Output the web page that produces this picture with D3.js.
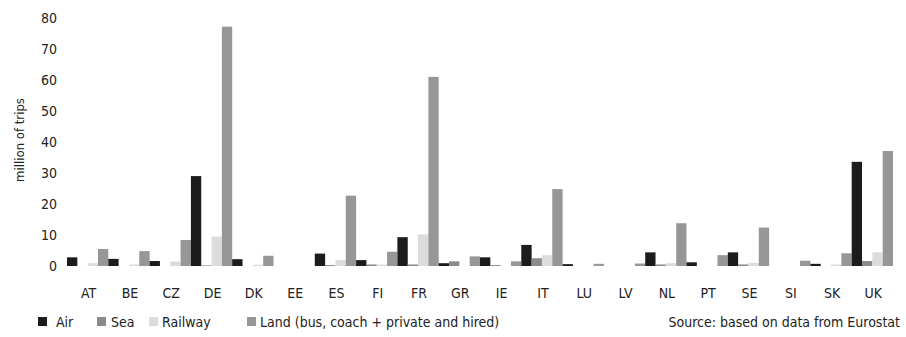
<!DOCTYPE html>
<html>
<head>
<meta charset="utf-8">
<script src="https://cdn.jsdelivr.net/npm/d3@7"></script>
<style>
  html, body { margin: 0; padding: 0; background: #fff; }
  svg { display: block; }
  text { font-family: "Liberation Sans Narrow", "Arial Narrow", "DejaVu Sans Condensed", sans-serif; fill: #222; }
</style>
</head>
<body>
<svg id="chart" width="906" height="337"></svg>
<script>
// Trips by transport mode per country, in million of trips
const categories = ["AT","BE","CZ","DE","DK","EE","ES","FI","FR","GR","IE","IT","LU","LV","NL","PT","SE","SI","SK","UK"];
const air     = [2.8, 2.3, 1.6, 29.0, 2.2, 0, 4.0, 1.9, 9.3, 0.9, 2.8, 6.8, 0.6, 0,   4.4, 1.2, 4.4, 0,   0.7, 33.6];
const sea     = [0,   0,   0,   0.2,  0,   0, 0.3, 0.5, 0.5, 1.5, 0.3, 2.5, 0,   0,   0.5, 0,   0.5, 0,   0,   1.6];
const railway = [0.9, 0.5, 1.4, 9.5,  0.4, 0, 1.9, 0.5, 10.2, 0,  0,   3.5, 0,   0,   0.9, 0,   1.0, 0,   0.5, 4.4];
const land    = [5.5, 4.8, 8.4, 77.2, 3.3, 0, 22.7, 4.6, 61.0, 3.1, 1.5, 24.8, 0.7, 0.8, 13.8, 3.5, 12.4, 1.7, 4.1, 37.1];
const seriesNames = ["Air", "Sea", "Railway", "Land (bus, coach + private and hired)"];
const seriesValues = [air, sea, railway, land];
const seriesColors = ["#1c1c1c", "#8b8b8b", "#dcdcdc", "#979797"];
const yTicks = [0, 10, 20, 30, 40, 50, 60, 70, 80];

const svg = d3.select("#chart");

const x0 = d3.scaleBand().domain(categories).range([67, 893]).paddingInner(0).paddingOuter(0);
const x1 = d3.scaleBand().domain(d3.range(seriesNames.length)).range([0, x0.bandwidth()]).padding(0);
const y = d3.scaleLinear().domain([0, 80]).range([266, 18]);

// Y axis: tick labels only, no line
const yAxis = d3.axisLeft(y).tickValues(yTicks).tickSize(0).tickPadding(0);
const gy = svg.append("g").attr("transform", "translate(57,0)").call(yAxis);
gy.select(".domain").remove();
gy.selectAll("text").style("font-size", "14px").attr("dy", "0.35em")
  .style("font-family", "'Liberation Sans Narrow', 'Arial Narrow', 'DejaVu Sans Condensed', sans-serif").attr("fill", "#222");

svg.append("text")
  .attr("transform", "translate(24,140) rotate(-90)")
  .attr("text-anchor", "middle")
  .style("font-size", "13px")
  .text("million of trips");

// Grouped bars
const groups = svg.append("g").selectAll("g")
  .data(categories)
  .join("g")
  .attr("transform", d => `translate(${x0(d)},0)`);

groups.selectAll("rect")
  .data((c, i) => seriesValues.map((vals, s) => ({ s, v: vals[i] })))
  .join("rect")
  .attr("x", d => x1(d.s))
  .attr("width", x1.bandwidth())
  .attr("y", d => y(d.v))
  .attr("height", d => y(0) - y(d.v))
  .attr("fill", d => seriesColors[d.s]);

// X axis: category labels only
const xAxis = d3.axisBottom(x0).tickSize(0).tickPadding(0);
const gx = svg.append("g").attr("transform", "translate(1,288)").call(xAxis);
gx.select(".domain").remove();
gx.selectAll("text").style("font-size", "14px").attr("dy", "0.71em")
  .style("font-family", "'Liberation Sans Narrow', 'Arial Narrow', 'DejaVu Sans Condensed', sans-serif").attr("fill", "#222");

// Legend
const legendX = [38, 97, 149, 247];
const legendTextX = [56, 111, 162, 260];
const legend = svg.append("g");
seriesNames.forEach((name, i) => {
  legend.append("rect")
    .attr("x", legendX[i]).attr("y", 317)
    .attr("width", 9).attr("height", 9)
    .attr("fill", seriesColors[i]);
  legend.append("text")
    .attr("x", legendTextX[i]).attr("y", 322)
    .attr("dy", "0.35em")
    .style("font-size", "14px")
    .text(name);
});

svg.append("text")
  .attr("x", 900).attr("y", 322)
  .attr("dy", "0.35em")
  .attr("text-anchor", "end")
  .style("font-size", "14px")
  .text("Source: based on data from Eurostat");
</script>
</body>
</html>
